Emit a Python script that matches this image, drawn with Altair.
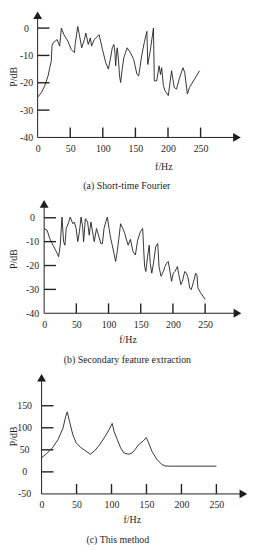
import altair as alt
import pandas as pd

FONT = "Liberation Serif"
INK = "#1e1e1e"

# ---- (a) Short-time Fourier ----
a_freq = [0, 6, 11, 16, 18.6, 21, 22, 23.7, 30, 33.8, 36.4, 40.3, 46.4, 51.5, 56.5, 57.5,
          61.5, 64, 67.6, 71.7, 74, 77.7, 80.8, 82.7, 86.8, 94.4, 99.4, 104.5, 108.5, 112,
          114.5, 117, 118.6, 119.7, 121, 122, 123.6, 125.7, 127.3, 129.7, 132.3, 134.8, 137.3,
          142.4, 147.4, 152.4, 155, 160, 164, 167.6, 169, 172.7, 177.7, 179, 182.7, 186.4,
          188.5, 190.3, 192.9, 195.4, 200.5, 205.5, 209.5, 213, 218, 223, 225.7, 229.7, 233, 248.5]
a_db = [-25.3, -23.5, -21, -17.5, -14.5, -12, -6.6, -5.4, -4.2, -6.6, 0, -2.4, -4.8, -7.8, -9, -6,
        0.6, -2.4, -7.2, -4.2, -1.8, -6, -3.6, -6.6, -4.2, -2.4, -7.8, -12.6, -15, -10.8,
        -7.2, -6, -9, -13.8, -9.6, -7.2, -10.2, -17.5, -19.9, -15, -10.8, -9, -7.2,
        -9, -11.5, -16.9, -17.5, -9.6, -4.8, -1.2, -13.3, -8.4, 0, -19.3, -19.3, -13.8,
        -17, -14.5, -21, -22.9, -24.7, -15.6, -21.7, -22.3, -18, -14.5, -16.3, -24.1, -21.7, -15.6]

# ---- (b) Secondary feature extraction ----
b_freq = [0, 4.6, 8.7, 13.8, 19, 22.5, 25, 27.7, 30.2, 32.3, 34.3, 38.3, 40.5, 44.5, 47, 49.7,
          52.2, 54.8, 57.3, 59.8, 61.3, 64, 67.5, 70, 72.7, 75.2, 77.8, 81.3, 84.4, 88, 90.5,
          93, 95.7, 98.2, 100.8, 103.4, 105.8, 108.4, 111, 113.5, 116, 118.7, 122.2, 125.3,
          127.3, 130.4, 134, 138, 141.7, 145.2, 149.4, 153, 154.4, 156, 158, 160.6, 163.2,
          164.7, 167.2, 169.8, 173.3, 176.4, 178.5, 181.6, 185.1, 187.7, 190.2, 192.8, 195.4,
          197.9, 200.5, 203.1, 207, 209.2, 212.3, 214.7, 218.4, 220.9, 223.5, 226.1, 228.5,
          232.2, 235.3, 237.3, 238.8, 243, 246.5, 250]
b_db = [-4.5, -5.2, -8.7, -11.5, -14.2, -16.3, -11.5, 0.3, -10, -11.5, -4.5, -1.8, 0.3, -2.5, -1.8, -4.5,
        -10, -5.9, 0.3, -3.8, -10, -0.4, -1.8, -7.3, -1.8, -5.9, -10, -4.5, -7.3, -10.8, -10.8,
        -4.5, -1.8, 0.3, -4.5, -8.7, -11.5, -14.9, -18.3, -14.2, -8.7, -2.5, -4.5, -6.6,
        -8.7, -11.5, -9, -14.2, -15.6, -9.4, -5.9, -4.5, -12.1, -20.4, -22.5, -16.3, -11.5,
        -19, -23.2, -19, -12.1, -10.8, -20.7, -24.5, -22.5, -20.4, -19, -18.3, -22.5,
        -26.6, -23.2, -22.5, -20.4, -23.9, -28, -26.6, -22.5, -23.2, -25.2, -29.4, -30.1,
        -26.6, -23.2, -23.9, -29.4, -31.4, -32.8, -34.2]

# ---- (c) This method ----
c_freq = [0, 7, 15.5, 23.5, 30.6, 34.4, 36.7, 40, 44.7, 49.4, 56.5, 63.6, 69.7, 75.3, 82.4, 89.5,
          96.5, 101, 103.6, 108.3, 113, 117.7, 124.8, 129.5, 134, 138.9, 146, 149.7, 153, 157.7,
          164.8, 171.8, 176.5, 181, 250]
c_db = [32, 41, 54.5, 73, 99, 125, 136, 114, 84, 66, 54.5, 47, 40, 47, 60, 77,
        95.5, 110, 92, 73, 54.5, 43, 40, 43, 51, 62, 71, 78, 66, 47,
        28.4, 17, 13.5, 13, 13]

db_ticks_ab = [0, -10, -20, -30]
db_labels_ab = [0, -10, -20, -30, -40]
db_ticks_c = [150, 100, 50, 0]
db_labels_c = [150, 100, 50, 0, -50]
hz_ticks = [50, 100, 150, 200, 250]
hz_labels = [0, 50, 100, 150, 200, 250]
captions = ["(a) Short-time Fourier", "(b) Secondary feature extraction", "(c) This method"]

YTICK_PX = 12   # inward tick length on the P axis
XTICK_PX = 10   # inward tick length on the f axis


def panel(freq, vals, xdom, ydom, ytick_vals, ylabel_vals, width, height,
          ylab_pad, xtitle_x, xtitle_y, caption, cap_dx, cap_offset):
    xmin, xmax = xdom
    ymin, ymax = ydom
    ytick_len = YTICK_PX * (xmax - xmin) / width
    xtick_len = XTICK_PX * (ymax - ymin) / height
    xs = alt.Scale(domain=xdom, nice=False, zero=False)
    ys = alt.Scale(domain=ydom, nice=False, zero=False)
    xaxis = alt.Axis(
        values=hz_labels, domain=False, ticks=False, grid=False, labelFlush=False,
        labelOverlap=False, labelPadding=6, labelFont=FONT, labelFontSize=10,
        labelColor=INK, title="f/Hz", titleFont=FONT, titleFontSize=10,
        titleFontWeight="normal", titleColor=INK, titleX=xtitle_x, titleY=xtitle_y,
        titleAlign="center", titleBaseline="middle")
    yaxis = alt.Axis(
        values=ylabel_vals, domain=False, ticks=False, grid=False, labelAlign="center",
        labelPadding=ylab_pad, labelFont=FONT, labelFontSize=10, labelColor=INK,
        labelExpr="'' + datum.value", labelOverlap=False, labelFlush=False,
        title="P/dB", titleFont=FONT, titleFontSize=10, titleFontWeight="normal",
        titleColor=INK, titleX=-24.2, titleBaseline="middle", titleAlign="center")

    def X(field):
        return alt.X(field, type="quantitative", scale=xs, axis=xaxis)

    def Y(field):
        return alt.Y(field, type="quantitative", scale=ys, axis=yaxis)

    df = pd.DataFrame({"f": freq, "p": vals})
    line = alt.Chart(df).mark_line(color=INK, strokeWidth=0.9).encode(x=X("f"), y=Y("p"))
    xline = alt.Chart(pd.DataFrame({"f": [0.0], "xe": [xmax], "p": [ymin]})).mark_rule(
        color=INK, strokeWidth=1).encode(x=X("f"), x2="xe:Q", y=Y("p"))
    yline = alt.Chart(pd.DataFrame({"f": [0.0], "p": [ymin], "ye": [ymax]})).mark_rule(
        color=INK, strokeWidth=1).encode(x=X("f"), y=Y("p"), y2="ye:Q")
    yt = alt.Chart(pd.DataFrame({"f": [0.0] * len(ytick_vals),
                                 "e": [ytick_len] * len(ytick_vals),
                                 "p": [float(v) for v in ytick_vals]})).mark_rule(
        color="#222222", strokeWidth=1.4).encode(x=X("f"), x2="e:Q", y=Y("p"))
    xt = alt.Chart(pd.DataFrame({"f": [float(v) for v in hz_ticks],
                                 "p": [ymin] * len(hz_ticks),
                                 "g": [ymin + xtick_len] * len(hz_ticks)})).mark_rule(
        color="#222222", strokeWidth=1.4).encode(x=X("f"), y=Y("p"), y2="g:Q")
    arr_r = alt.Chart(pd.DataFrame({"f": [xmax], "p": [ymin]})).mark_point(
        shape="triangle-right", filled=True, size=80, color=INK, opacity=1).encode(
        x=X("f"), y=Y("p"))
    arr_u = alt.Chart(pd.DataFrame({"f": [0.0], "p": [ymax]})).mark_point(
        shape="triangle-up", filled=True, size=80, color=INK, opacity=1).encode(
        x=X("f"), y=Y("p"))
    return alt.layer(line, xline, yline, yt, xt, arr_r, arr_u).properties(
        width=width, height=height,
        title=alt.TitleParams(text=caption, orient="bottom", anchor="middle", frame="group",
                              dx=cap_dx, offset=cap_offset, font=FONT, fontSize=10,
                              fontWeight="normal", color=INK))


p1 = panel(a_freq, a_db, [0, 305.8], [-40, 4.7], db_ticks_ab, db_labels_ab, 201.8, 123.7,
           11.7, 127.3, 29.3, captions[0], -10.6, 10)
p2 = panel(b_freq, b_db, [-10.1, 300.2], [-40, 5.8], db_ticks_ab, db_labels_ab, 202.3, 110.7,
           5.7, 91, 27, captions[1], -10.3, 10)
p3 = panel(c_freq, c_db, [-5.65, 288.6], [-50, 213.4], db_ticks_c, db_labels_c, 208.3, 117.6,
           13.7, 95.3, 26.3, captions[2], -23, 10)

chart = alt.vconcat(p1, p2, p3, spacing=9).properties(
    padding={"left": 0, "top": 0, "right": 2, "bottom": 0},
    background="white",
).configure_view(stroke=None)

chart.save("out.html", embed_options={"renderer": "svg", "actions": False})
